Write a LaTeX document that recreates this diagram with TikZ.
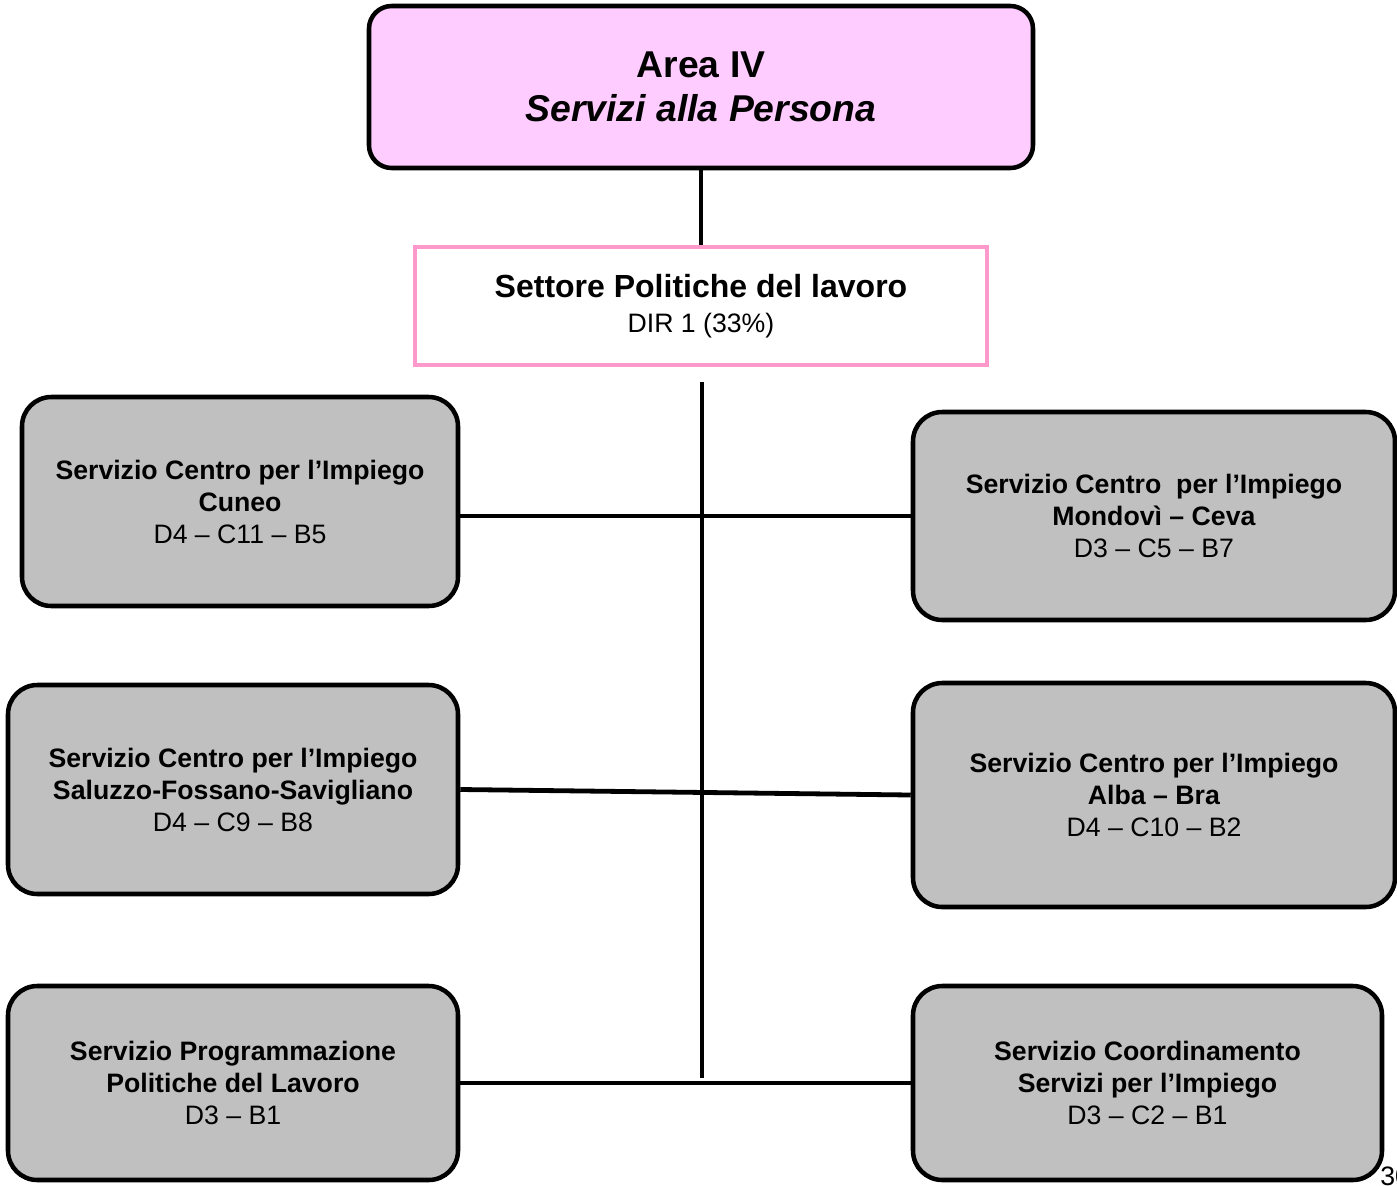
\documentclass[tikz,border=0pt]{standalone}
\usepackage{fontspec}
\setmainfont{Liberation Sans}
\usepackage{tikz}

\definecolor{areapink}{HTML}{FFCCFF}
\definecolor{settorepink}{HTML}{FF99CC}
\definecolor{servgray}{HTML}{C0C0C0}

\tikzset{
  servbox/.style={draw, line width=3.4pt, rounded corners=22pt, fill=servgray,
    align=center, inner sep=0pt, font=\fontsize{20}{24}\selectfont},
  conn/.style={line width=3.6pt}
}

\begin{document}
\begin{tikzpicture}[x=0.75pt,y=0.75pt,yscale=-1,xscale=1]
        \useasboundingbox (0,0) rectangle (1397,1186);

        %Shape: Area box
        \node [draw, line width=3.4pt, rounded corners=17pt, fill=areapink, minimum width=498pt, minimum height=121.5pt, align=center, inner sep=0pt, font=\fontsize{28}{33}\selectfont\bfseries] (area) at (701,87) {Area IV\\\textit{Servizi alla Persona}};
        %Shape: Settore box
        \node [draw=settorepink, line width=3pt, fill=white, minimum width=429pt, minimum height=88.5pt, align=center, inner sep=0pt, font=\fontsize{20}{26}\selectfont] (settore) at (701,306) {{\fontsize{24}{26}\selectfont\bfseries Settore Politiche del lavoro}\\DIR 1 (33\%)};

        %Shape: Servizi a sinistra
        \node [servbox, minimum width=327pt, minimum height=156.75pt] (cuneo) at (240,501.5) {\textbf{Servizio Centro per l’Impiego}\\\textbf{Cuneo}\\D4 – C11 – B5};
        \node [servbox, minimum width=337.5pt, minimum height=156.75pt] (saluzzo) at (233,789.5) {\textbf{Servizio Centro per l’Impiego}\\\textbf{Saluzzo-Fossano-Savigliano}\\D4 – C9 – B8};
        \node [servbox, minimum width=337.5pt, minimum height=145.5pt] (programm) at (233,1083) {\textbf{Servizio Programmazione}\\\textbf{Politiche del Lavoro}\\D3 – B1};

        %Shape: Servizi a destra
        \node [servbox, minimum width=361.5pt, minimum height=156pt] (mondovi) at (1154,516) {\textbf{Servizio Centro\ \ per l’Impiego}\\\textbf{Mondovì – Ceva}\\D3 – C5 – B7};
        \node [servbox, minimum width=361.5pt, minimum height=168pt] (alba) at (1154,795) {\textbf{Servizio Centro per l’Impiego}\\\textbf{Alba – Bra}\\D4 – C10 – B2};
        \node [servbox, minimum width=351.75pt, minimum height=145.5pt] (coord) at (1147.5,1083) {\textbf{Servizio Coordinamento}\\\textbf{Servizi per l’Impiego}\\D3 – C2 – B1};

        %Straight Lines
        \coordinate (trunktop) at (702,382);
        \coordinate (trunkbot) at (702,1078);
        \draw [conn] (area) -- (settore);
        \draw [conn] (trunktop) -- (trunkbot);
        \draw [conn] (cuneo.east |- mondovi.west) -- (mondovi.west);
        \draw [conn] (saluzzo.east) -- (alba.west);
        \draw [conn] (programm.east) -- (coord.west);

        % Text Node
        \node [anchor=north west, inner sep=0pt, font=\fontsize{20}{22}\selectfont] (pagenum) at (1380,1167) {30};

\end{tikzpicture}
\end{document}
